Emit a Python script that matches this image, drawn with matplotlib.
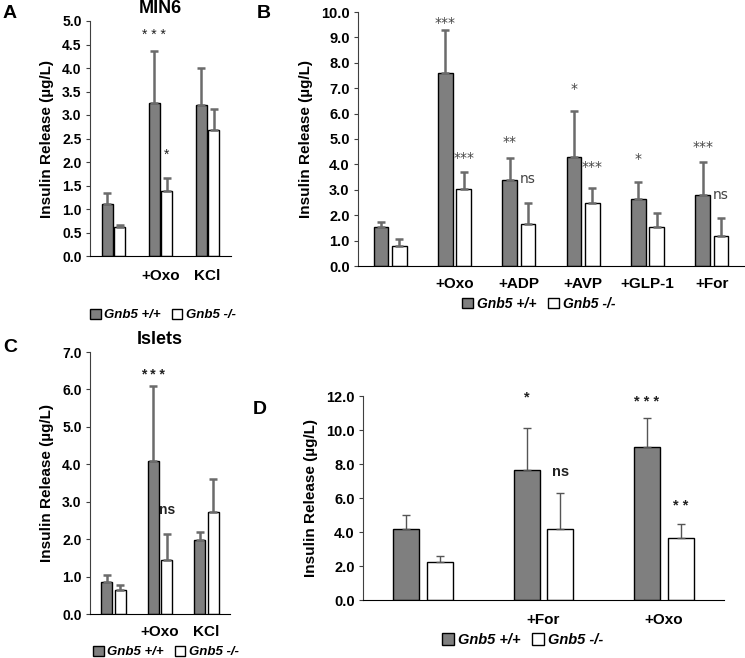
import numpy as np
import matplotlib
matplotlib.use("Agg")
import matplotlib.pyplot as plt

plt.rcParams['font.family'] = ['Liberation Sans', 'DejaVu Sans']

W, H = 745, 658

# ---- data (means and upper error) ----
a_labels = ["", "+Oxo", "KCl"]
a_wt = [1.10, 3.25, 3.22]
a_wt_err = [0.25, 1.12, 0.78]
a_ko = [0.62, 1.38, 2.68]
a_ko_err = [0.04, 0.27, 0.44]

b_labels = ["", "+Oxo", "+ADP", "+AVP", "+GLP-1", "+For"]
b_wt = [1.55, 7.60, 3.38, 4.30, 2.65, 2.80]
b_wt_err = [0.20, 1.68, 0.89, 1.80, 0.67, 1.30]
b_ko = [0.80, 3.03, 1.67, 2.50, 1.55, 1.18]
b_ko_err = [0.25, 0.67, 0.81, 0.58, 0.55, 0.72]

c_labels = ["", "+Oxo", "KCl"]
c_wt = [0.85, 4.10, 1.97]
c_wt_err = [0.20, 2.00, 0.23]
c_ko = [0.65, 1.45, 2.72]
c_ko_err = [0.12, 0.70, 0.88]

d_labels = ["", "+For", "+Oxo"]
d_wt = [4.15, 7.65, 9.00]
d_wt_err = [0.85, 2.45, 1.70]
d_ko = [2.25, 4.20, 3.62]
d_ko_err = [0.35, 2.10, 0.83]

# significance marks: (group, series 0=wt 1=ko, y, text)
a_sig = [(1, 0, 4.70, "* * *"), (1, 1, 2.15, "*")]
b_sig = [(1, 0, 9.58, "***"), (1, 1, 4.25, "***"), (2, 0, 4.90, "**"),
         (2, 1, 3.41, "ns"), (3, 0, 6.95, "*"), (3, 1, 3.88, "***"),
         (4, 0, 4.22, "*"), (5, 0, 4.70, "***"), (5, 1, 2.78, "ns")]
c_sig = [(1, 0, 6.38, "* * *"), (1, 1, 2.78, "ns")]
d_sig = [(1, 0, 11.9, "*"), (2, 0, 11.65, "* * *"), (1, 1, 7.5, "ns"),
         (2, 1, 5.5, "* *")]

series_names = ["Gnb5 +/+", "Gnb5 -/-"]


def px_axes(fig, left, top, right, bottom):
    return fig.add_axes([left / W, 1 - bottom / H, (right - left) / W, (bottom - top) / H])


def panel(ax, labels, wt, wt_err, ko, ko_err, ymax, ystep, fmt_size, xl_size,
          width, off, err_lw, err_col, sig, sig_style, xpad):
    x = np.arange(len(labels))
    zero = np.zeros(len(labels))
    ekw = dict(ecolor=err_col, elinewidth=err_lw, capsize=3, capthick=err_lw)
    b1 = ax.bar(x - off, wt, width, color="#7f7f7f", edgecolor="black", linewidth=1.0,
                yerr=[zero, wt_err], error_kw=ekw, zorder=2)
    b2 = ax.bar(x + off, ko, width, color="white", edgecolor="black", linewidth=1.0,
                yerr=[zero, ko_err], error_kw=ekw, zorder=2)
    ax.set_xlim(-0.5, len(labels) - 0.5)
    ax.set_ylim(0, ymax)
    ticks = np.arange(0, ymax + 0.001, ystep)
    ax.set_yticks(ticks)
    ax.set_yticklabels(["%.1f" % v for v in ticks], fontsize=fmt_size, fontweight="bold")
    ax.set_xticks(x)
    ax.set_xticklabels(labels, fontsize=xl_size, fontweight="bold")
    ax.tick_params(axis="x", length=0, pad=xpad)
    ax.tick_params(axis="y", length=3, pad=3, color="#404040")
    for s in ["top", "right"]:
        ax.spines[s].set_visible(False)
    ax.spines["left"].set_color("#404040")
    ax.set_ylabel("Insulin Release (µg/L)", fontsize=11, fontweight="bold", labelpad=6)
    for g, s, y, t in sig:
        xx = g - off if s == 0 else g + off
        ax.text(xx, y, t, ha="center", va="center", **sig_style)
    return b1, b2


fig = plt.figure(figsize=(W / 100, H / 100), dpi=100)

# A
axA = px_axes(fig, 90, 21, 231, 256)
hA = panel(axA, a_labels, a_wt, a_wt_err, a_ko, a_ko_err, 5.0, 0.5, 10, 11,
           0.24, 0.13, 1.8, "#6b6b6b", a_sig,
           dict(fontsize=10, color="#222222"), 9)
axA.set_title("MIN6", fontsize=13, fontweight="bold", pad=6)
fig.text(3 / W, 1 - 13 / H, "A", fontsize=14, fontweight="bold", va="center")

# B
axB = px_axes(fig, 358, 12, 744, 266)
hB = panel(axB, b_labels, b_wt, b_wt_err, b_ko, b_ko_err, 10.0, 1.0, 10.5, 11,
           0.23, 0.143, 1.8, "#6b6b6b", b_sig,
           dict(fontsize=10, color="#444444", family="DejaVu Sans"), 8)
fig.text(257 / W, 1 - 13 / H, "B", fontsize=14, fontweight="bold", va="center")

# C
axC = px_axes(fig, 90, 352, 230, 614)
hC = panel(axC, c_labels, c_wt, c_wt_err, c_ko, c_ko_err, 7.0, 1.0, 10, 11,
           0.24, 0.145, 1.8, "#6b6b6b", c_sig,
           dict(fontsize=10, color="#222222", fontweight="bold"), 8)
axC.set_title("Islets", fontsize=13, fontweight="bold", pad=6)
fig.text(3 / W, 1 - 347 / H, "C", fontsize=14, fontweight="bold", va="center")

# D
axD = px_axes(fig, 363, 396, 724, 600)
d_style = dict(fontsize=10.5, color="#222222", fontweight="bold")
hD = panel(axD, d_labels, d_wt, d_wt_err, d_ko, d_ko_err, 12.0, 2.0, 10.5, 11,
           0.215, 0.14, 1.0, "#555555", d_sig, d_style, 9)
fig.text(253 / W, 1 - 410 / H, "D", fontsize=14, fontweight="bold", va="center")

for h, cx, cy, fs in [(hA, 163, 315, 9.5), (hB, 539, 304, 10), (hC, 166, 652, 9.5),
                      (hD, 523, 640, 10.5)]:
    fig.legend([h[0], h[1]], series_names, loc="center",
               bbox_to_anchor=(cx / W, 1 - cy / H), ncol=2, frameon=False,
               prop=dict(size=fs, weight="bold", style="italic"),
               handlelength=0.8, handleheight=0.8, handletextpad=0.3,
               columnspacing=0.8, borderpad=0)

fig.savefig("out.png", dpi=100)
